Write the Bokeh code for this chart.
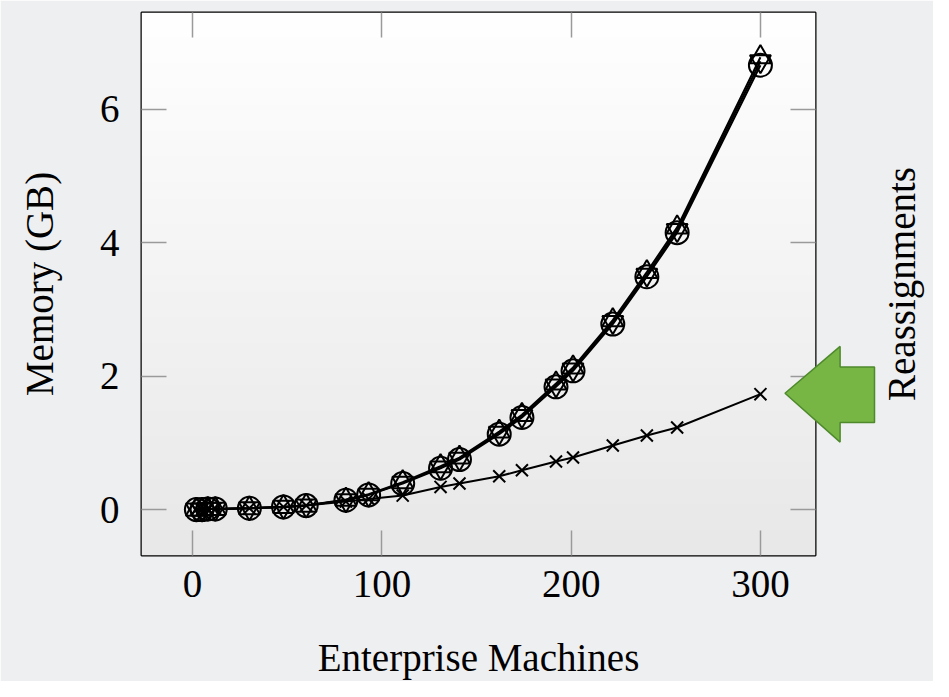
import math
import numpy as np
from bokeh.plotting import figure
from bokeh.models import Range1d, LinearAxis, FixedTicker
from bokeh.core.properties import value
from bokeh.embed import file_html
from bokeh.resources import INLINE

# ---- data ----
machines = [2, 5, 8, 12, 30, 48, 60, 81, 93, 111, 131, 141, 162, 174, 192, 201, 222, 240, 256, 300]
mem_circle = [0.00, 0.00, 0.01, 0.01, 0.02, 0.04, 0.06, 0.14, 0.22, 0.39, 0.62, 0.75, 1.13, 1.38,
              1.84, 2.08, 2.78, 3.49, 4.15, 6.66]
mem_triangle = [0.00, 0.00, 0.01, 0.01, 0.02, 0.04, 0.06, 0.15, 0.23, 0.41, 0.65, 0.78, 1.17, 1.42,
                1.89, 2.13, 2.84, 3.56, 4.23, 6.78]
mem_inv_triangle = [0.00, 0.00, 0.01, 0.01, 0.02, 0.04, 0.06, 0.14, 0.22, 0.40, 0.63, 0.76, 1.15, 1.40,
                    1.86, 2.10, 2.81, 3.52, 4.19, 6.72]
mem_cross = [0.00, 0.00, 0.01, 0.01, 0.02, 0.04, 0.06, 0.12, 0.16, 0.21, 0.34, 0.39, 0.50, 0.59,
             0.72, 0.78, 0.96, 1.11, 1.23, 1.73]
x_ticks = [0, 100, 200, 300]
y_ticks = [0, 2, 4, 6]
x_title = "Enterprise Machines"
y_title = "Memory (GB)"
side_title = "Reassignments"

FONT = "Liberation Serif"
FS = "39px"
X0, X1 = -27.0, 329.1
Y0, Y1 = -0.688, 7.45
W, H = 933, 681
FL, FR, FT, FB = 141, 815, 12, 555   # frame edges in canvas pixels

p = figure(width=W, height=H, x_range=Range1d(X0, X1), y_range=Range1d(Y0, Y1),
           output_backend="svg", toolbar_location=None,
           min_border_left=FL, min_border_right=W - FR, min_border_top=FT, min_border_bottom=H - FB)
p.border_fill_color = "#eeeff1"
p.background_fill_color = "#f4f4f4"
p.outline_line_color = "black"
p.outline_line_width = 2
p.grid.visible = False

# soft vertical gradient of the plot area (white at top, light grey at bottom)
n = 64
t = np.linspace(0.0, 1.0, n)  # 0 = bottom row, 1 = top row
shade = (232 + (255 - 232) * t).astype(np.uint32)
img = np.empty((n, 1), dtype=np.uint32)
view = img.view(dtype=np.uint8).reshape((n, 1, 4))
view[:, 0, 0] = shade
view[:, 0, 1] = shade
view[:, 0, 2] = shade
view[:, 0, 3] = 255
p.image_rgba(image=[img], x=X0, y=Y0, dw=X1 - X0, dh=Y1 - Y0)

def style_axis(ax, ticks, show_labels):
    ax.ticker = FixedTicker(ticks=ticks)
    ax.axis_line_color = None
    ax.major_tick_in = 25
    ax.major_tick_out = 0
    ax.major_tick_line_color = "#9a9a9a"
    ax.major_tick_line_width = 1.5
    ax.minor_tick_line_color = None
    ax.major_label_text_font = FONT
    if show_labels:
        ax.major_label_text_font_size = FS
        ax.major_label_text_color = "black"
    else:
        ax.major_label_text_font_size = "0px"
        ax.major_label_text_color = None
        ax.major_label_standoff = 0

def style_title(ax):
    ax.axis_label_text_font = FONT
    ax.axis_label_text_font_size = FS
    ax.axis_label_text_font_style = "normal"
    ax.axis_label_text_color = "black"

style_axis(p.xaxis[0], x_ticks, True)
style_axis(p.yaxis[0], y_ticks, True)
p.xaxis[0].major_label_standoff = 15
p.yaxis[0].major_label_standoff = 22
p.xaxis[0].axis_label = x_title
p.yaxis[0].axis_label = y_title
style_title(p.xaxis[0])
style_title(p.yaxis[0])
p.xaxis[0].axis_label_standoff = 36
p.yaxis[0].axis_label_standoff = 36

top_ax = LinearAxis()
right_ax = LinearAxis()
style_axis(top_ax, x_ticks, False)
style_axis(right_ax, y_ticks, False)
p.add_layout(top_ax, "above")
p.add_layout(right_ax, "right")

# ---- series ----
series = [
    (mem_cross, "x", 17),
    (mem_circle, "circle", 23),
    (mem_inv_triangle, "inverted_triangle", 21),
    (mem_triangle, "triangle", 21),
]
for ys, marker, size in series:
    p.line(machines, ys, line_color="black", line_width=2)
for ys, marker, size in series:
    p.scatter(machines, ys, marker=marker, size=size, line_color="black", line_width=2,
              fill_alpha=0)

# ---- slide decorations (canvas pixels -> data) ----
def dx(cx):
    return X0 + (cx - FL) * (X1 - X0) / (FR - FL)

def dy(cy):
    return Y1 - (cy - FT) * (Y1 - Y0) / (FB - FT)

arrow_px = [(784.5, 392.8), (839.6, 345.9), (839.6, 366.4), (874.0, 366.4),
            (874.0, 422.1), (839.6, 422.1), (839.6, 441.6)]
p.patch([dx(a) for a, b in arrow_px], [dy(b) for a, b in arrow_px],
        fill_color="#77b544", line_color="#4e8a2c", line_width=1.5, level="overlay")

# right-hand title of the neighbouring chart on the slide
p.text(x=[dx(901)], y=[dy(283.5)], text=[side_title], angle=math.pi / 2,
       text_align="center", text_baseline="alphabetic",
       text_font=value(FONT), text_font_size=value(FS), text_color="black", level="overlay")

open("out.html", "w").write(file_html(p, INLINE))
